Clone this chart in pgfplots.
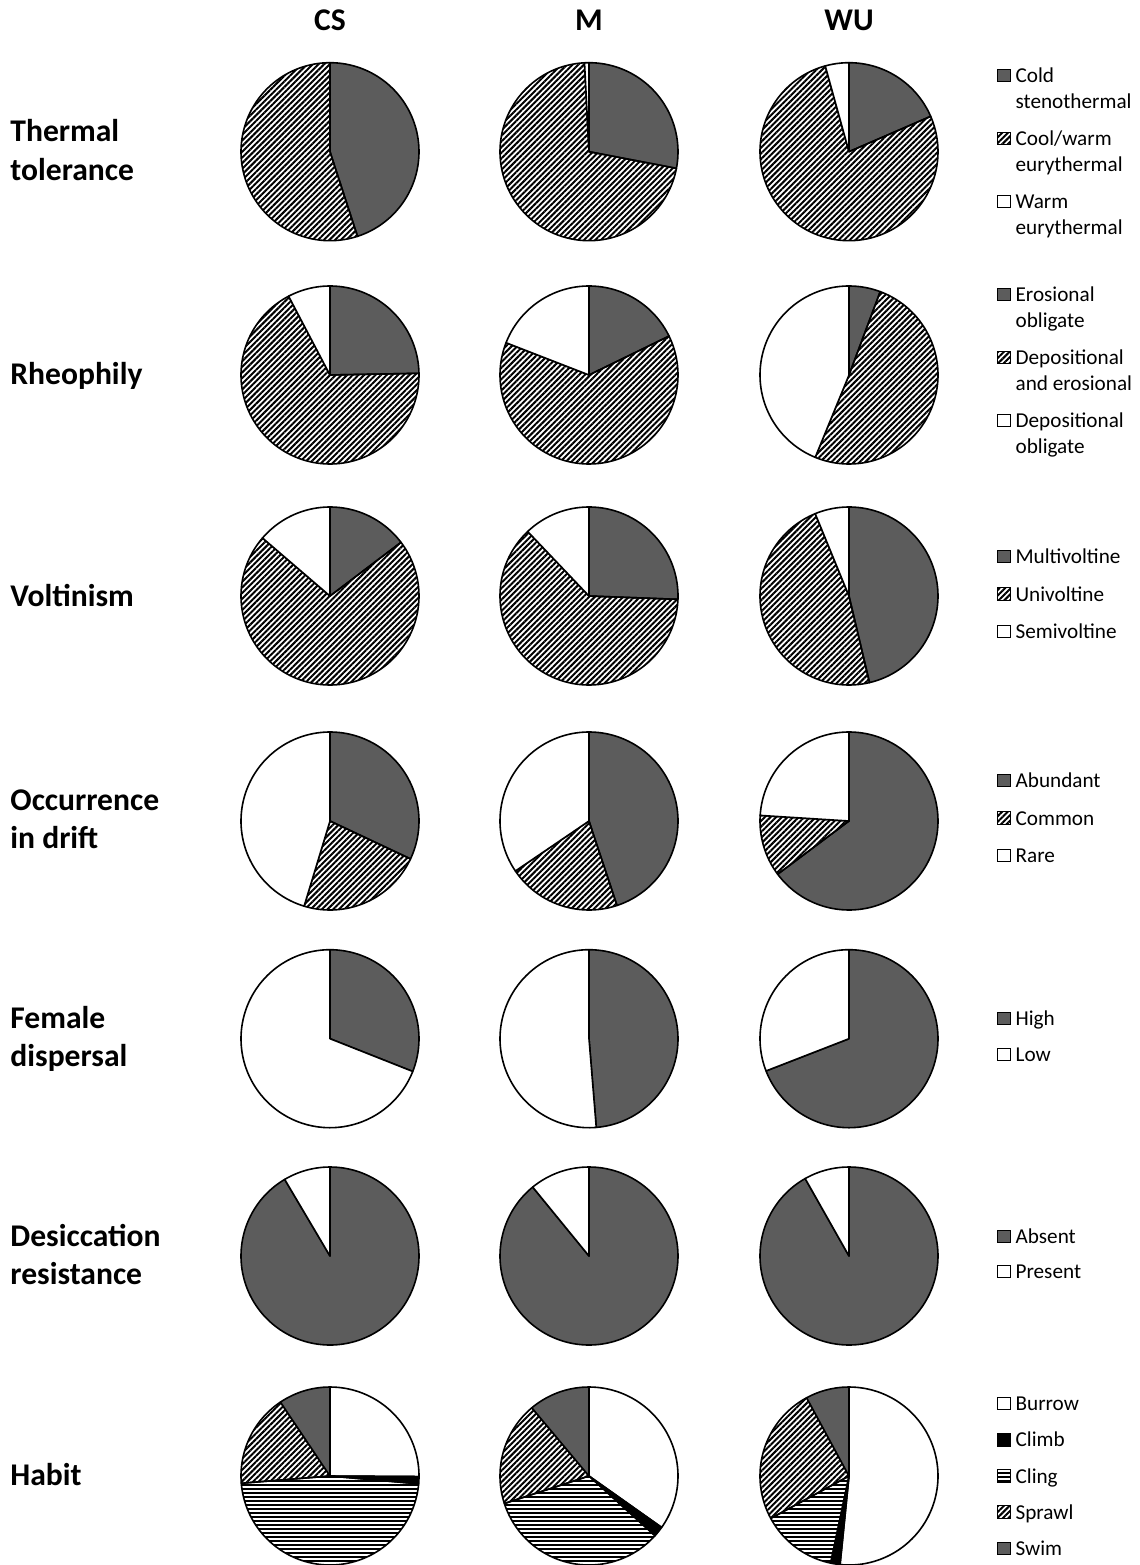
\documentclass[border=0pt]{standalone}
\usepackage{fontspec}
\setmainfont{Carlito}
\usepackage{pgfplots}
\pgfplotsset{compat=1.18}
\usetikzlibrary{patterns.meta}
\definecolor{piedark}{HTML}{5C5C5C}

\tikzset{
  pdark/.style={fill=piedark},
  phatch/.style={pattern={Lines[angle=45,distance=2pt,line width=1pt]}, pattern color=black},
  pwhite/.style={fill=white},
  pblack/.style={fill=black},
  phoriz/.style={pattern={Lines[angle=0,distance=2pt,line width=0.95pt]}, pattern color=black},
  rowlab/.style={anchor=base west, inner sep=0pt, font=\fontsize{15.8}{19}\selectfont\bfseries},
  collab/.style={anchor=base, inner sep=0pt, font=\fontsize{15.8}{19}\selectfont\bfseries},
}
\pgfplotsset{
  pieslice/.style={draw=black, line width=0.8pt, line join=round, forget plot, mark=none},
  rowaxis/.style={
    x=0.5pt, y=0.5pt, y dir=reverse,
    xmin=0, xmax=1140, ymin=0, ymax=1565,
    hide axis, clip=false, scale only axis,
    at={(0,0)}, anchor=south west,
    legend image code/.code={\draw[##1, draw=black, line width=0.5pt] (0pt,0.4pt) rectangle (6.3pt,6.7pt);},
    legend style={draw=none, fill=none, inner sep=0pt, outer sep=0pt, anchor=north west,
      font=\fontsize{10.6}{13}\selectfont,
      nodes={inner sep=0pt, text depth=},
      cells={anchor=base west, inner sep=0pt},
      /tikz/every odd column/.append style={column sep=2.5pt}},
  },
}
\newcommand\pie[3]{%
  \xdef\cum{0}%
  \foreach \v/\s in {#3}{%
    \pgfmathsetmacro\a{\cum*3.6}%
    \pgfmathsetmacro\newcum{\cum+\v}%
    \pgfmathsetmacro\b{\newcum*3.6}%
    \pgfmathtruncatemacro\n{max(4,(\b-\a)/2)}%
    \edef\doslice{\noexpand\addplot[pieslice,\s,domain=\a:\b,samples=\n] ({#1+89*sin(x)},{#2-89*cos(x)}) -- (axis cs:#1,#2) -- cycle;}%
    \doslice
    \xdef\cum{\newcum}%
  }%
}
\newcommand\lt[1]{\begin{tabular}[t]{@{}l@{}}#1\end{tabular}}

\begin{document}
\begin{tikzpicture}
% ---------- Row 1: Thermal tolerance
\begin{axis}[rowaxis, legend style={at={(axis description cs:0.874561,0.958786)}, row sep=5.5pt}]
\pie{330}{151.7}{45/pdark,55/phatch}
\pie{589}{151.7}{28/pdark,71.2/phatch,0.8/pwhite}
\pie{849}{151.7}{18.5/pdark,77.2/phatch,4.3/pwhite}
\addlegendimage{pdark}\addlegendentry{\lt{Cold\\stenothermal}}
\addlegendimage{phatch}\addlegendentry{\lt{Cool/warm\\eurythermal}}
\addlegendimage{pwhite}\addlegendentry{\lt{Warm\\eurythermal}}
\node[collab] at (axis cs:330,31) {CS};
\node[collab] at (axis cs:589,31) {M};
\node[collab] at (axis cs:849,31) {WU};
\node[rowlab] at (axis cs:10,142) {Thermal};
\node[rowlab] at (axis cs:10,180.5) {tolerance};
\coordinate (BL) at (axis cs:0,1565);
\coordinate (TR) at (axis cs:1140,0);
\end{axis}
% ---------- Row 2: Rheophily
\begin{axis}[rowaxis, legend style={at={(axis description cs:0.874561,0.818850)}, row sep=5.5pt}]
\pie{330}{375}{24.7/pdark,67.6/phatch,7.7/pwhite}
\pie{589}{375}{17.8/pdark,63.1/phatch,19.1/pwhite}
\pie{849}{375}{5.7/pdark,50.5/phatch,43.8/pwhite}
\addlegendimage{pdark}\addlegendentry{\lt{Erosional\\obligate}}
\addlegendimage{phatch}\addlegendentry{\lt{Depositional\\and erosional}}
\addlegendimage{pwhite}\addlegendentry{\lt{Depositional\\obligate}}
\node[rowlab] at (axis cs:10,385) {Rheophily};
\end{axis}
% ---------- Row 3: Voltinism
\begin{axis}[rowaxis, legend style={at={(axis description cs:0.874561,0.651438)}, row sep=5.75pt}]
\pie{330}{596}{14.7/pdark,71.6/phatch,13.7/pwhite}
\pie{589}{596}{25.6/pdark,62.3/phatch,12.1/pwhite}
\pie{849}{596}{46.3/pdark,47.5/phatch,6.2/pwhite}
\addlegendimage{pdark}\addlegendentry{\lt{Multivoltine}}
\addlegendimage{phatch}\addlegendentry{\lt{Univoltine}}
\addlegendimage{pwhite}\addlegendentry{\lt{Semivoltine}}
\node[rowlab] at (axis cs:10,607) {Voltinism};
\end{axis}
% ---------- Row 4: Occurrence in drift
\begin{axis}[rowaxis, legend style={at={(axis description cs:0.874561,0.508307)}, row sep=5.75pt}]
\pie{330}{821}{32/pdark,22.7/phatch,45.3/pwhite}
\pie{589}{821}{44.9/pdark,20.6/phatch,34.5/pwhite}
\pie{849}{821}{64.8/pdark,11.2/phatch,24/pwhite}
\addlegendimage{pdark}\addlegendentry{\lt{Abundant}}
\addlegendimage{phatch}\addlegendentry{\lt{Common}}
\addlegendimage{pwhite}\addlegendentry{\lt{Rare}}
\node[rowlab] at (axis cs:10,810) {Occurrence};
\node[rowlab] at (axis cs:10,848.5) {in drift};
\end{axis}
% ---------- Row 5: Female dispersal
\begin{axis}[rowaxis, legend style={at={(axis description cs:0.874561,0.356230)}, row sep=5pt}]
\pie{330}{1038.7}{31/pdark,69/pwhite}
\pie{589}{1038.7}{48.7/pdark,51.3/pwhite}
\pie{849}{1038.7}{69.1/pdark,30.9/pwhite}
\addlegendimage{pdark}\addlegendentry{\lt{High}}
\addlegendimage{pwhite}\addlegendentry{\lt{Low}}
\node[rowlab] at (axis cs:10,1028) {Female};
\node[rowlab] at (axis cs:10,1066.5) {dispersal};
\end{axis}
% ---------- Row 6: Desiccation resistance
\begin{axis}[rowaxis, legend style={at={(axis description cs:0.874561,0.216933)}, row sep=4.5pt}]
\pie{330}{1256}{91.5/pdark,8.5/pwhite}
\pie{589}{1256}{89.1/pdark,10.9/pwhite}
\pie{849}{1256}{91.8/pdark,8.2/pwhite}
\addlegendimage{pdark}\addlegendentry{\lt{Absent}}
\addlegendimage{pwhite}\addlegendentry{\lt{Present}}
\node[rowlab] at (axis cs:10,1246) {Desiccation};
\node[rowlab] at (axis cs:10,1284.5) {resistance};
\end{axis}
% ---------- Row 7: Habit
\begin{axis}[rowaxis, legend style={at={(axis description cs:0.874561,0.110224)}, row sep=5.1pt}]
\pie{330}{1476}{25.1/pwhite,1.3/pblack,47.3/phoriz,16.9/phatch,9.4/pdark}
\pie{589}{1476}{34.8/pwhite,1.9/pblack,33.3/phoriz,18.9/phatch,11.1/pdark}
\pie{849}{1476}{51.6/pwhite,1.7/pblack,13.8/phoriz,25/phatch,7.9/pdark}
\addlegendimage{pwhite}\addlegendentry{\lt{Burrow}}
\addlegendimage{pblack}\addlegendentry{\lt{Climb}}
\addlegendimage{phoriz}\addlegendentry{\lt{Cling}}
\addlegendimage{phatch}\addlegendentry{\lt{Sprawl}}
\addlegendimage{pdark}\addlegendentry{\lt{Swim}}
\node[rowlab] at (axis cs:10,1485) {Habit};
\end{axis}
\pgfresetboundingbox
\path[use as bounding box] (BL) rectangle (TR);
\end{tikzpicture}
\end{document}
